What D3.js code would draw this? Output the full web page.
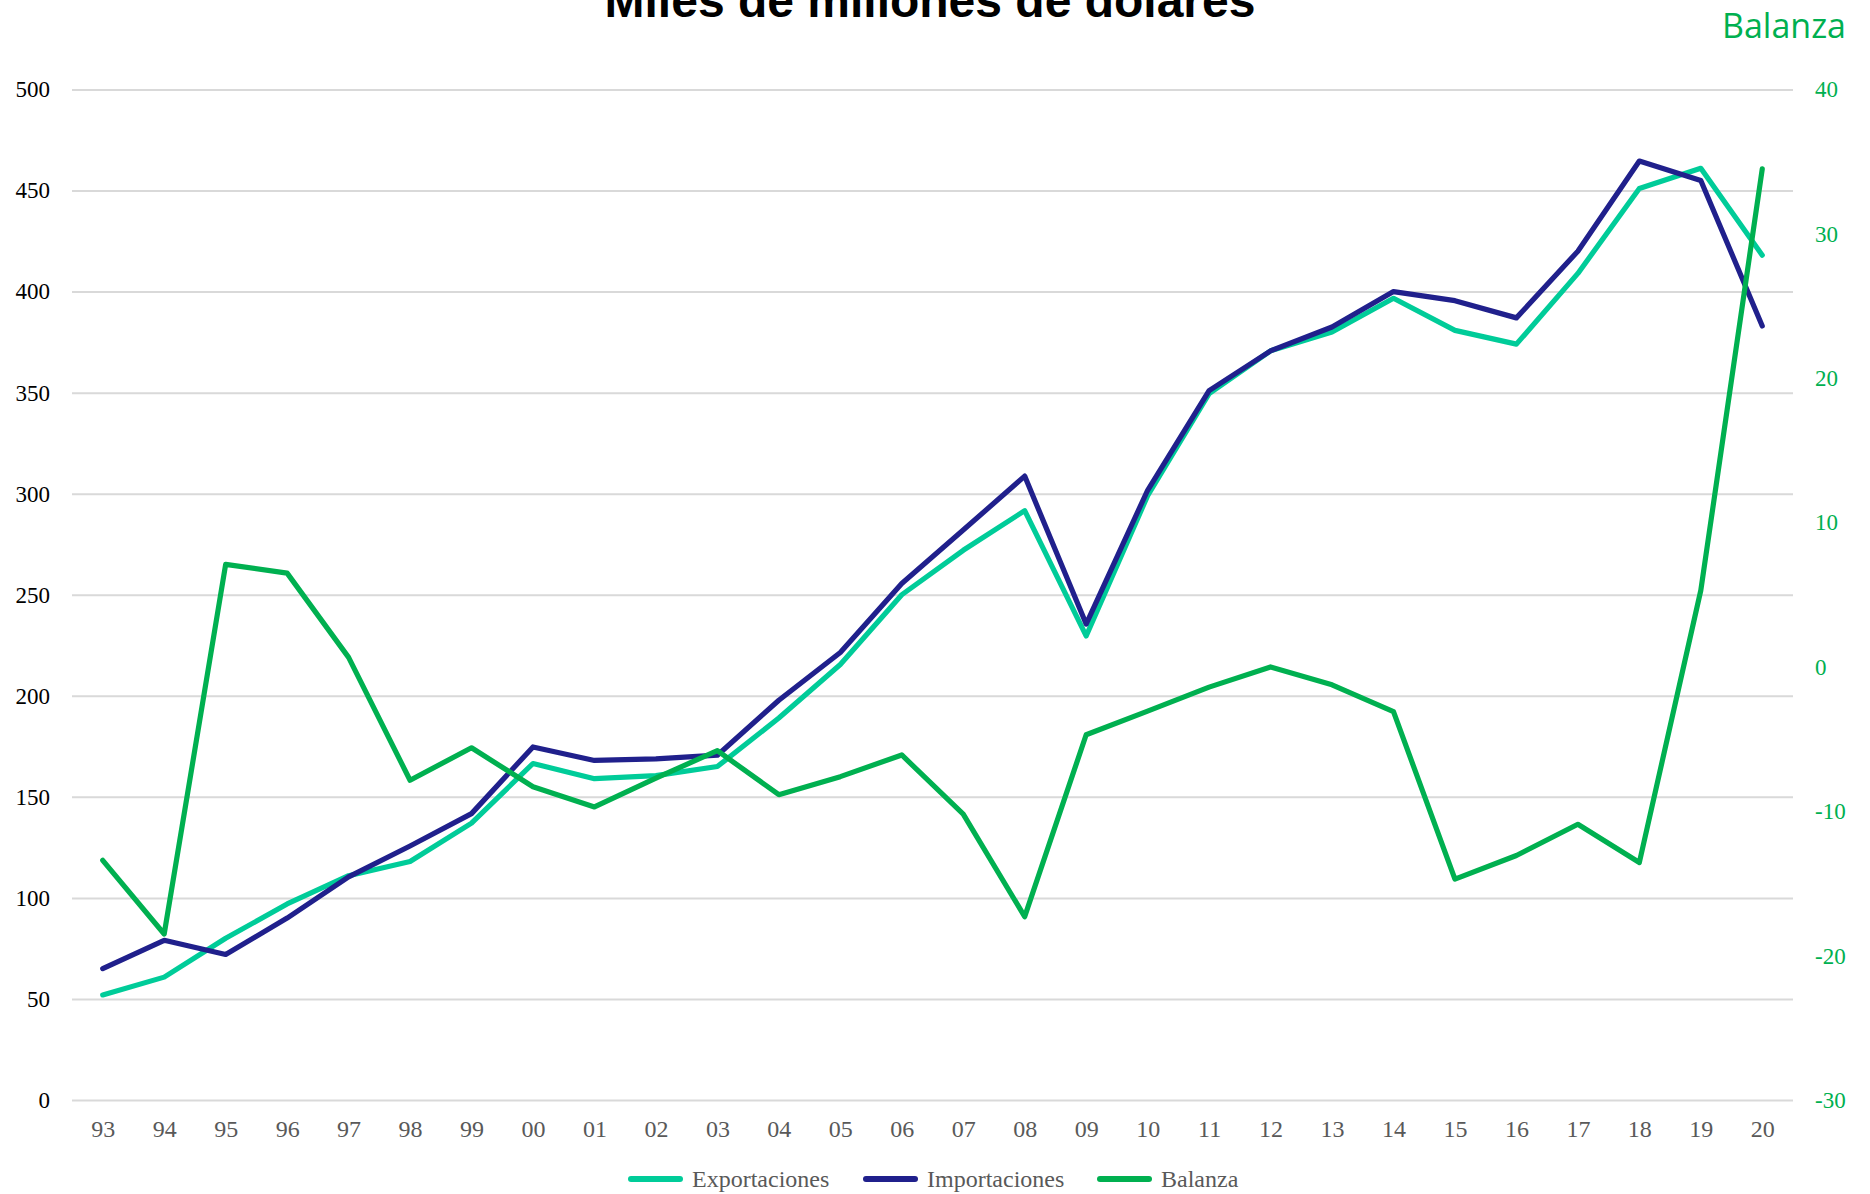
<!DOCTYPE html>
<html><head><meta charset="utf-8">
<script src="https://cdn.jsdelivr.net/npm/d3@7"></script>
<style>body{margin:0;background:#fff;}svg{display:block;}</style>
</head><body>
<script>
const years = ["93","94","95","96","97","98","99","00","01","02","03","04","05","06","07","08","09","10","11","12","13","14","15","16","17","18","19","20"];
const exportaciones = [52,60.8,80,97,111,118,137,166.5,159,160.5,165,189,215.5,250,272,291.6,229.6,299,349.5,370.7,380,396.7,380.8,374,409,451,461,418];
const importaciones = [65,79,72,90,110.4,125.7,141.7,174.7,168,168.8,170.6,197.8,221.4,255.6,282,308.7,235.5,301.7,351,370.7,382.5,400,395.5,387,420,464.6,455,383];
const balanza = [-13.4,-18.5,7.1,6.5,0.66,-7.85,-5.6,-8.3,-9.7,-7.7,-5.8,-8.85,-7.6,-6.1,-10.2,-17.3,-4.7,-3.06,-1.4,0,-1.24,-3.1,-14.7,-13.06,-10.9,-13.55,5.3,34.5];
const leftTicks = [0,50,100,150,200,250,300,350,400,450,500];
const rightTicks = [-30,-20,-10,0,10,20,30,40];
const seriesNames = ["Exportaciones","Importaciones","Balanza"];
const colors = ["#00CC99","#20208C","#00B050"];

const W = 1870, H = 1194;
const x0 = 72, x1 = 1793, yTop = 89.5, yBot = 1100;
const svg = d3.select("body").append("svg").attr("width",W).attr("height",H);

const x = d3.scalePoint().domain(years).range([x0,x1]).padding(0.5);
const yL = d3.scaleLinear().domain([0,500]).range([yBot,yTop]);
const yR = d3.scaleLinear().domain([-30,40]).range([yBot,yTop]);
const fmt = d => String(d);

const gAxL = svg.append("g").attr("transform",`translate(${x0},0)`)
  .call(d3.axisLeft(yL).tickValues(leftTicks).tickSize(-(x1-x0)).tickPadding(22).tickFormat(fmt));
gAxL.select(".domain").remove();
gAxL.selectAll(".tick line").attr("stroke","#d9d9d9").attr("stroke-width",2);
gAxL.selectAll(".tick text").attr("font-family","'Liberation Serif', serif").attr("font-size",23).attr("fill","#000");

const gAxR = svg.append("g").attr("transform",`translate(${x1},0)`)
  .call(d3.axisRight(yR).tickValues(rightTicks).tickSize(0).tickPadding(22).tickFormat(fmt));
gAxR.select(".domain").remove();
gAxR.selectAll(".tick text").attr("font-family","'Liberation Serif', serif").attr("font-size",23).attr("fill","#00B050");

const gAxB = svg.append("g").attr("transform",`translate(0,${yBot})`)
  .call(d3.axisBottom(x).tickSize(0).tickPadding(20));
gAxB.select(".domain").remove();
gAxB.selectAll(".tick text").attr("font-family","'Liberation Serif', serif").attr("font-size",24).attr("fill","#595959");

const lineL = arr => d3.line().x((d,i)=>x(years[i])).y(d=>yL(d))(arr);
const lineR = arr => d3.line().x((d,i)=>x(years[i])).y(d=>yR(d))(arr);

[[lineL(exportaciones),0],[lineL(importaciones),1],[lineR(balanza),2]].forEach(([p,i])=>{
  svg.append("path").attr("d",p).attr("fill","none").attr("stroke",colors[i]).attr("stroke-width",5.2)
    .attr("stroke-linejoin","round").attr("stroke-linecap","round");
});

svg.append("text").attr("x",930).attr("y",17).attr("text-anchor","middle")
  .attr("font-family","'Liberation Sans', Arial, sans-serif").attr("font-weight","bold").attr("font-size",48)
  .attr("fill","#000").text("Miles de millones de dólares");

svg.append("text").attr("x",1846).attr("y",38).attr("text-anchor","end")
  .attr("font-family","'Open Sans', sans-serif").attr("font-size",34).attr("fill","#00B050").text("Balanza");

const legX = [628,863,1097];
const legY = 1179;
const lg = svg.append("g");
seriesNames.forEach((n,i)=>{
  lg.append("line").attr("x1",legX[i]+3).attr("x2",legX[i]+52).attr("y1",legY).attr("y2",legY)
    .attr("stroke",colors[i]).attr("stroke-width",6).attr("stroke-linecap","round");
  lg.append("text").attr("x",legX[i]+64).attr("y",legY+8).attr("font-family","'Liberation Serif', serif")
    .attr("font-size",24).attr("fill","#595959").text(n);
});
</script>
</body></html>
